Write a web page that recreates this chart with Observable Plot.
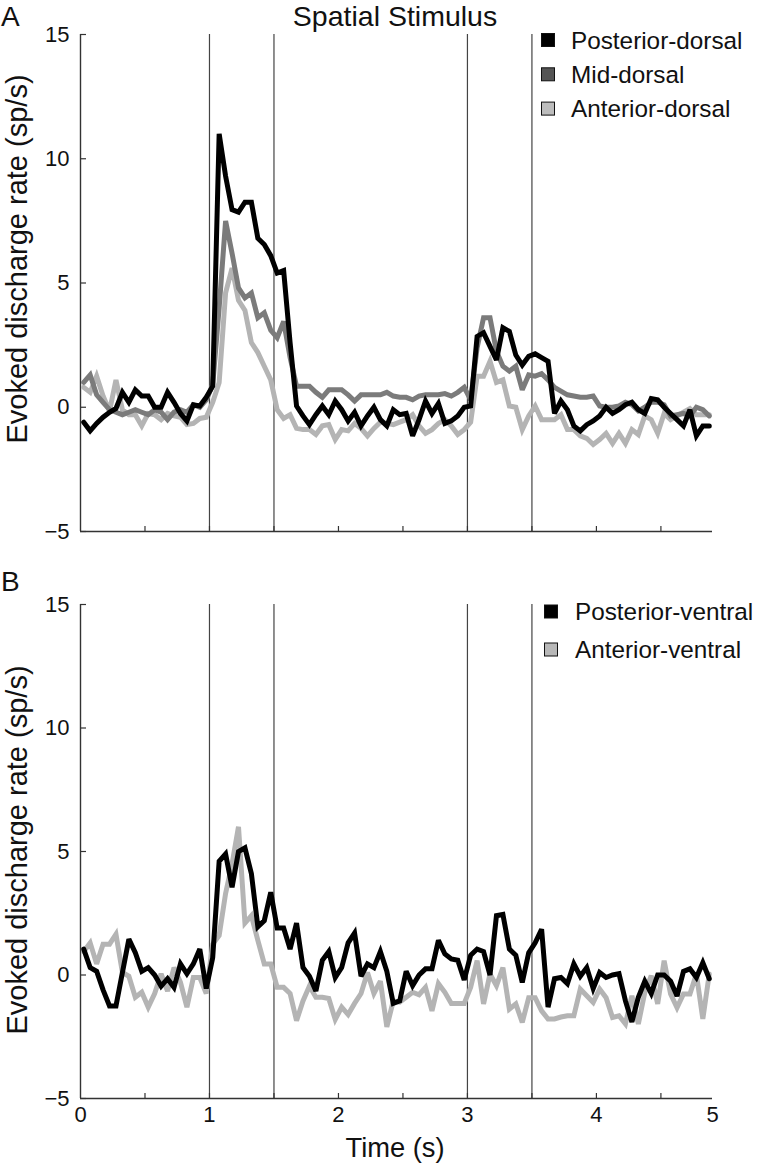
<!DOCTYPE html>
<html><head><meta charset="utf-8">
<script src="https://cdn.jsdelivr.net/npm/d3@7"></script>
<script src="https://cdn.jsdelivr.net/npm/@observablehq/plot@0.6"></script>
<style>
html,body{margin:0;padding:0;background:#fff;}
#chart svg{display:block;}
</style></head><body><div id="chart"></div>
<script>
const FONT = "'Liberation Sans', Arial, sans-serif";

// ---- time bins (s) ----
const binStart = 0.025, binWidth = 0.05;

// ---- Panel A: dorsal (evoked discharge rate, sp/s) ----
const posteriorDorsal = [
 -0.6,-0.95,-0.65,-0.4,-0.2,-0.05,0.6,0.2,0.7,0.45,
 0.45,0.0,0.0,0.6,0.2,-0.25,-0.55,0.1,0.05,0.4,
 0.85,11.0,9.3,7.95,7.85,8.25,8.25,6.8,6.55,6.1,
 5.4,5.5,2.6,0.05,-0.35,-0.7,-0.3,0.05,-0.3,0.25,
 -0.1,-0.55,-0.2,-0.75,-0.35,0.0,-0.5,-0.75,-0.1,-0.3,
 -0.25,-1.15,-0.5,0.25,-0.25,0.15,-0.65,-0.55,-0.35,0.0,
 0.05,2.85,3.0,2.45,1.9,3.2,3.05,2.1,1.7,2.05,
 2.15,2.0,1.85,-0.25,0.25,-0.1,-0.75,-0.95,-0.7,-0.55,
 -0.35,0.0,-0.25,-0.1,0.1,0.2,-0.1,-0.25,0.35,0.3,
 0.0,-0.25,-0.5,-0.75,-0.1,-1.15,-0.75,-0.75];
const midDorsal = [
 1.0,1.3,0.5,0.2,-0.1,-0.2,-0.3,-0.2,-0.1,-0.2,
 -0.3,-0.1,-0.2,-0.5,-0.2,-0.1,-0.2,0.1,0.0,0.3,
 0.9,4.0,7.5,6.2,4.8,4.4,4.6,3.6,3.8,3.1,
 2.8,3.45,2.0,0.85,0.85,0.85,0.6,0.4,0.7,0.7,
 0.7,0.5,0.25,0.5,0.5,0.5,0.5,0.6,0.45,0.4,
 0.4,0.3,0.45,0.5,0.5,0.5,0.55,0.45,0.6,0.8,
 0.3,2.4,3.6,3.6,2.25,1.65,1.45,1.65,0.7,1.3,
 1.25,1.35,1.1,0.8,0.65,0.5,0.45,0.4,0.4,0.45,
 0.05,0.0,0.0,0.05,0.2,0.1,-0.15,0.0,0.2,0.2,
 0.1,-0.35,-0.3,-0.25,-0.35,0.0,-0.1,-0.35];
const anteriorDorsal = [
 0.8,0.6,1.25,0.45,-0.15,1.1,-0.1,-0.3,-0.3,-0.75,
 -0.25,-0.3,-0.5,-0.25,-0.35,-0.4,-0.7,-0.65,-0.45,-0.4,
 0.2,1.0,4.6,5.6,4.3,3.9,2.6,2.2,1.65,1.1,
 -0.1,-0.45,-0.3,-0.85,-0.9,-0.9,-1.1,-0.75,-0.7,-1.3,
 -0.9,-0.95,-0.65,-0.85,-1.15,-0.85,-0.6,-0.65,-0.7,-0.6,
 -0.5,-0.3,-0.75,-1.05,-0.9,-0.65,-0.5,-0.75,-1.1,-0.9,
 -0.6,1.25,1.25,1.85,1.0,1.1,0.05,0.0,-0.9,-0.35,
 0.05,-0.5,-0.5,-0.5,-0.3,-0.9,-0.9,-1.15,-1.25,-1.5,
 -1.3,-1.05,-1.45,-1.05,-1.45,-0.9,-1.1,-0.35,-0.5,-1.05,
 -0.25,-0.5,-0.35,-0.2,-0.05,-0.3,-0.3,-0.3];

// ---- Panel B: ventral ----
const posteriorVentral = [
 1.05,0.3,0.15,-0.6,-1.25,-1.25,0.1,1.45,0.9,0.15,
 0.3,0.0,-0.45,-0.15,-0.5,0.45,0.05,0.45,1.05,-0.55,
 0.7,4.6,4.9,3.55,5.0,5.15,4.1,1.95,2.2,3.35,
 1.9,1.9,1.05,2.1,0.3,-0.05,-0.65,0.6,0.95,-0.1,
 0.3,1.3,1.7,-0.05,0.45,0.3,0.95,0.15,-1.15,-1.05,
 0.15,-0.43,0.0,0.25,0.25,1.4,0.85,0.65,0.6,-0.2,
 0.8,1.05,0.95,0.0,2.4,2.45,1.05,0.8,-0.3,0.9,
 1.3,1.85,-1.3,-0.15,-0.1,-0.35,0.45,-0.05,0.3,-0.55,
 0.1,-0.1,0.0,0.05,-1.05,-1.9,-0.9,-0.25,-0.75,0.0,
 0.0,-0.25,-0.85,0.15,0.25,-0.1,0.5,-0.15];
const anteriorVentral = [
 0.95,1.3,0.45,1.25,1.25,1.65,0.1,-0.05,-0.9,-0.7,
 -1.3,-0.75,0.05,-0.65,0.3,-0.3,-1.3,-0.1,-0.1,-0.75,
 1.25,1.6,3.3,4.5,6.0,2.1,2.4,1.4,0.45,0.45,
 -0.5,-0.5,-0.75,-1.85,-1.05,-0.45,-0.9,-0.9,-0.95,-1.8,
 -1.3,-1.6,-1.15,-0.75,0.1,-0.75,-0.25,-2.1,-1.05,-1.1,
 -0.9,-0.7,-0.8,-0.5,-1.45,-0.35,-0.7,-1.15,-1.15,-1.15,
 -0.5,0.58,-1.17,0.04,-0.43,0.3,-1.38,-1.17,-1.92,-0.92,
 -0.92,-1.45,-1.78,-1.78,-1.7,-1.65,-1.65,-0.57,-0.84,-1.11,
 -0.57,-0.92,-1.72,-1.65,-1.98,-0.84,-1.98,-0.71,-0.03,-1.17,
 0.58,-0.77,-1.32,-0.77,-0.77,0.04,-1.78,0.04];

// ---- axes / annotations ----
const yTickValues = [-5, 0, 5, 10, 15];
const xMinorTicks = [0.5, 1, 1.5, 2, 2.5, 3, 3.5, 4, 4.5];
const xTickValues = [0, 1, 2, 3, 4, 4.9];
const xTickLabels = ["0", "1", "2", "3", "4", "5"];
const stimulusEdges = [1, 1.5, 3, 3.5];
const xDomain = [0, 4.9];
const yDomain = [-5, 15];

const seriesA = [
  {name: "Anterior-dorsal", values: anteriorDorsal, line: "#b4b4b4", swatch: "#bdbdbd"},
  {name: "Mid-dorsal", values: midDorsal, line: "#7b7b7b", swatch: "#555555"},
  {name: "Posterior-dorsal", values: posteriorDorsal, line: "#000000", swatch: "#000000"}
];
const legendA = ["Posterior-dorsal", "Mid-dorsal", "Anterior-dorsal"];
const seriesB = [
  {name: "Anterior-ventral", values: anteriorVentral, line: "#b4b4b4", swatch: "#b8b8b8"},
  {name: "Posterior-ventral", values: posteriorVentral, line: "#000000", swatch: "#000000"}
];
const legendB = ["Posterior-ventral", "Anterior-ventral"];

const W = 770, ML = 80, MR = 58;
const AX = "#333";

function panel(opts) {
  const {series, legendOrder, height, marginTop, marginBottom, showX, letter, letterY,
         ylabelY, legendY0, legendStep, legendSwatchX, legendTextX, title, xlabel} = opts;
  const plotW = W - ML - MR;
  const plotH = height - marginTop - marginBottom;
  const marks = [
    Plot.ruleX(stimulusEdges, {stroke: "#444", strokeWidth: 1.2}),
    Plot.ruleX([xDomain[0]], {stroke: AX, strokeWidth: 1.4}),
    Plot.ruleY([yDomain[0]], {stroke: AX, strokeWidth: 1.4}),
    Plot.tickY(yTickValues, {y: d => d, stroke: AX, strokeWidth: 1.2, insetRight: plotW - 6}),
    Plot.tickX(xMinorTicks, {x: d => d, stroke: AX, strokeWidth: 1.2, insetTop: plotH - 5}),
    Plot.axisY({ticks: yTickValues, tickSize: 0, tickPadding: 11, label: null, fontSize: 22, fill: "#111"})
  ];
  if (showX) {
    const lab = new Map(xTickValues.map((v, i) => [v, xTickLabels[i]]));
    marks.push(Plot.axisX({ticks: xTickValues, tickFormat: d => lab.get(d), tickSize: 0, tickPadding: 8, label: null, fontSize: 22, fill: "#111"}));
  } else {
    marks.push(Plot.axisX({ticks: [], label: null}));
  }
  for (const s of series) {
    const rows = s.values.map((v, i) => ({t: binStart + binWidth * i, v}));
    marks.push(Plot.line(rows, {x: "t", y: "v", stroke: s.line, strokeWidth: 5, strokeLinejoin: "miter", strokeMiterlimit: 3}));
  }
  const svgEl = Plot.plot({
    width: W, height, marginTop, marginBottom, marginLeft: ML, marginRight: MR,
    style: {fontFamily: FONT, fontSize: "22px", background: "white", color: "#111"},
    x: {domain: xDomain},
    y: {domain: yDomain},
    marks
  });
  const svg = d3.select(svgEl);
  const g = svg.append("g").attr("font-family", FONT).attr("fill", "#111").attr("text-anchor", "start");
  g.append("text").attr("x", 1).attr("y", letterY).attr("text-anchor", "start").attr("font-size", 28).text(letter);
  g.append("text").attr("transform", `translate(27,${ylabelY}) rotate(-90)`)
    .attr("text-anchor", "middle").attr("font-size", 29).text("Evoked discharge rate (sp/s)");
  if (title) g.append("text").attr("x", 395).attr("y", title.y).attr("text-anchor", "middle").attr("font-size", 28.5).text(title.text);
  if (xlabel) g.append("text").attr("x", 395).attr("y", xlabel.y).attr("text-anchor", "middle").attr("font-size", 27.3).text(xlabel.text);
  legendOrder.forEach((name, i) => {
    const s = series.find(d => d.name === name);
    const cy = legendY0 + i * legendStep;
    g.append("rect").attr("x", legendSwatchX).attr("y", cy - 6.5).attr("width", 13).attr("height", 13)
      .attr("fill", s.swatch).attr("stroke", "#111").attr("stroke-width", 1);
    g.append("text").attr("x", legendTextX).attr("y", cy + 8.5).attr("text-anchor", "start").attr("font-size", 24.3).text(name);
  });
  return svgEl;
}

// Panel A occupies page y 0..545, panel B page y 545..1164
const root = document.getElementById("chart");
root.appendChild(panel({
  series: seriesA, legendOrder: legendA, height: 545, marginTop: 34, marginBottom: 14, showX: false,
  letter: "A", letterY: 26, ylabelY: 259, legendY0: 40, legendStep: 34.3, legendSwatchX: 541.5, legendTextX: 571,
  title: {text: "Spatial Stimulus", y: 26}
}));
root.appendChild(panel({
  series: seriesB, legendOrder: legendB, height: 619, marginTop: 59, marginBottom: 66, showX: true,
  letter: "B", letterY: 46, ylabelY: 305, legendY0: 66.5, legendStep: 38, legendSwatchX: 544.5, legendTextX: 575,
  xlabel: {text: "Time (s)", y: 612}
}));
</script></body></html>
